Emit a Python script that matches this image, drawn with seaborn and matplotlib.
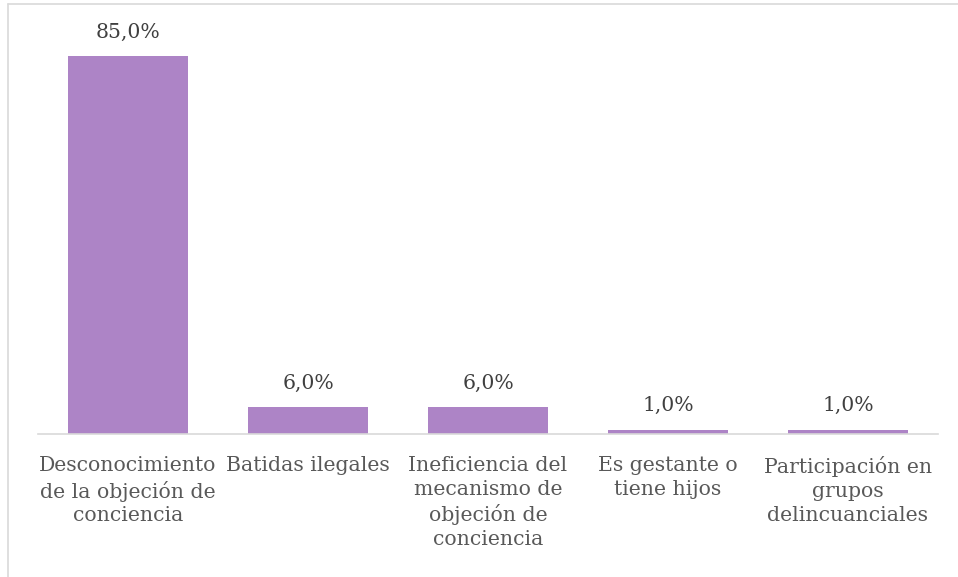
import pandas as pd
import seaborn as sns
import matplotlib.pyplot as plt
from matplotlib.lines import Line2D

categorias = ['Desconocimiento\nde la objeción de\nconciencia',
              'Batidas ilegales',
              'Ineficiencia del\nmecanismo de\nobjeción de\nconciencia',
              'Es gestante o\ntiene hijos',
              'Participación en\ngrupos\ndelincuanciales']
porcentajes = [85.0, 6.0, 6.0, 1.0, 1.0]

df = pd.DataFrame({'categoria': categorias, 'pct': porcentajes})

sns.set_style('white')
plt.rcParams['font.family'] = ['DejaVu Serif']

fig = plt.figure(figsize=(9.58, 5.77), dpi=100)
W, H = 958, 577
ax = fig.add_axes([38 / W, (H - 434) / H, 900 / W, 400 / H])

sns.barplot(data=df, x='categoria', y='pct', color='#ad84c6', saturation=1,
            width=0.667, linewidth=0, ax=ax)

for i, v in enumerate(porcentajes):
    ax.text(i, v + 3.2, f'{v:.1f}%'.replace('.', ','), ha='center', va='bottom',
            fontsize=14.7, color='#404040')

ax.set_ylim(0, 90)
ax.set_xlim(-0.5, len(categorias) - 0.5)
ax.set_xlabel('')
ax.set_ylabel('')
ax.set_yticks([])
for s in ['top', 'right', 'left']:
    ax.spines[s].set_visible(False)
ax.spines['bottom'].set_color('#d9d9d9')
ax.spines['bottom'].set_linewidth(1.2)
ax.tick_params(axis='x', length=0, pad=16, labelsize=14.7, colors='#595959')
for t in ax.get_xticklabels():
    t.set_linespacing(1.32)

# outer chart frame
fig.add_artist(Line2D([8 / W, 1], [1 - 4 / H, 1 - 4 / H], color='#d9d9d9', lw=1.2))
fig.add_artist(Line2D([8 / W, 8 / W], [0, 1 - 4 / H], color='#d9d9d9', lw=1.2))

fig.savefig('out.png', dpi=100)
